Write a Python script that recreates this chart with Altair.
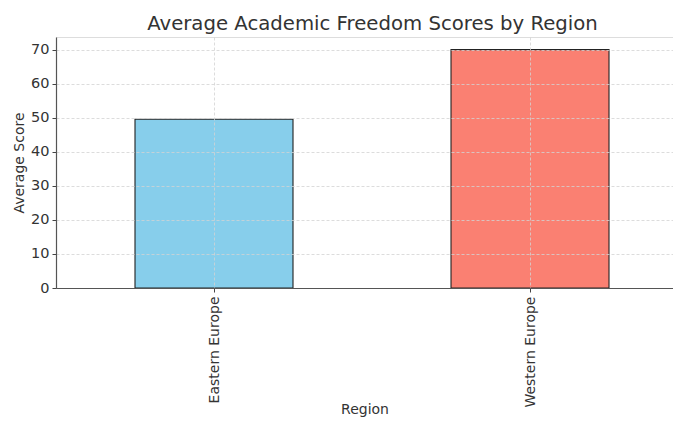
import json
import altair as alt
import pandas as pd

regions = ["Eastern Europe", "Western Europe"]
scores = [49.6, 70.1]
colors = ["#87CEEB", "#FA8072"]

df = pd.DataFrame({"Region": regions, "Average Score": scores,
                   "pos": list(range(len(regions)))})

label_expr = json.dumps(regions) + "[datum.value]"

chart = alt.Chart(df).mark_bar(stroke="#222222", strokeWidth=1.1, opacity=1, size=158).encode(
    x=alt.X("pos:Q",
            scale=alt.Scale(domain=[-0.5, 1.4525], nice=False, zero=False, padding=0),
            axis=alt.Axis(values=list(range(len(regions))), labelExpr=label_expr,
                          labelAngle=270, labelFontSize=14, labelColor="#333333",
                          labelPadding=4, tickSize=4, tickColor="#444444",
                          domainColor="#555555", domainWidth=1.2,
                          labelAlign="right", labelBaseline="middle",
                          title="Region", titleFontSize=14, titleFontWeight="normal",
                          titleColor="#333333", titleY=114, titleBaseline="top",
                          grid=True, gridColor="#d3d3d3", gridDash=[3, 2], gridWidth=0.8,
                          zindex=1)),
    y=alt.Y("Average Score:Q",
            scale=alt.Scale(domain=[0, 73.8], nice=False),
            axis=alt.Axis(values=list(range(0, 80, 10)), labelFontSize=14.5,
                          labelColor="#333333", tickSize=4, tickColor="#444444",
                          labelPadding=3, domainColor="#555555", domainWidth=1.2,
                          title="Average Score", titleFontSize=14, titleFontWeight="normal",
                          titleColor="#333333", titleX=-30,
                          grid=True, gridColor="#d3d3d3", gridDash=[3, 2], gridWidth=0.8,
                          zindex=1)),
    color=alt.Color("Region:N", scale=alt.Scale(domain=regions, range=colors), legend=None),
).properties(
    width=617,
    height=251,
    title=alt.TitleParams("Average Academic Freedom Scores by Region", fontSize=19.7,
                          fontWeight="normal", color="#333333", anchor="middle",
                          offset=3, dx=8),
    autosize=alt.AutoSizeParams(type="none"),
    padding={"left": 48, "top": 29, "right": 0, "bottom": 130},
).configure_view(stroke=None).configure(font="DejaVu Sans")

chart.save("out.html", embed_options={"renderer": "svg", "actions": False})
